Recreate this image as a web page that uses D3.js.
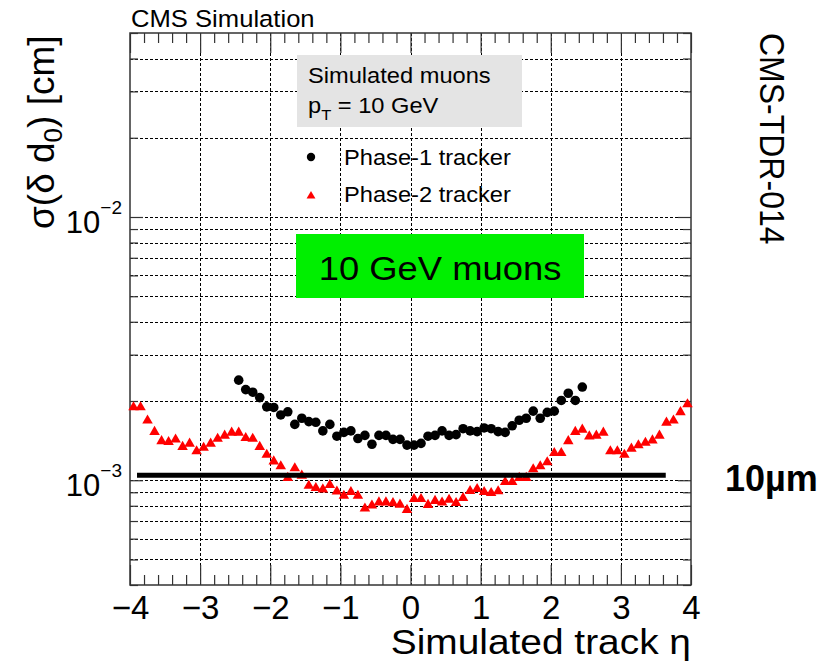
<!DOCTYPE html>
<html>
<head>
<meta charset="utf-8">
<script src="https://cdn.jsdelivr.net/npm/d3@7"></script>
<style>
  body { margin: 0; background: #fff; }
  svg { display: block; font-family: "Liberation Sans", Arial, Helvetica, sans-serif; }
</style>
</head>
<body>
<script>
// resolution values are read in units of 10^-3 cm
var units = 1e-3;

var etaPhase1 = [-2.45,-2.35,-2.25,-2.15,-2.05,-1.95,-1.85,-1.75,-1.65,-1.55,
                 -1.45,-1.35,-1.25,-1.15,-1.05,-0.95,-0.85,-0.75,-0.65,-0.55,
                 -0.45,-0.35,-0.25,-0.15,-0.05,0.05,0.15,0.25,0.35,0.45,
                 0.55,0.65,0.75,0.85,0.95,1.05,1.15,1.25,1.35,1.45,
                 1.55,1.65,1.75,1.85,1.95,2.05,2.15,2.25,2.35,2.45];
var resPhase1 = [2.40,2.21,2.16,2.06,1.90,1.89,1.77,1.82,1.63,1.72,
                 1.67,1.66,1.54,1.63,1.47,1.52,1.54,1.44,1.48,1.37,
                 1.48,1.48,1.43,1.43,1.36,1.36,1.38,1.47,1.48,1.54,
                 1.48,1.49,1.57,1.54,1.53,1.58,1.57,1.53,1.52,1.61,
                 1.69,1.72,1.83,1.72,1.81,1.83,2.01,2.14,2.01,2.26];

var etaPhase2 = [-3.95,-3.85,-3.75,-3.65,-3.55,-3.45,-3.35,-3.25,-3.15,-3.05,
                 -2.95,-2.85,-2.75,-2.65,-2.55,-2.45,-2.35,-2.25,-2.15,-2.05,
                 -1.95,-1.85,-1.75,-1.65,-1.55,-1.45,-1.35,-1.25,-1.15,-1.05,
                 -0.95,-0.85,-0.75,-0.65,-0.55,-0.45,-0.35,-0.25,-0.15,-0.05,
                 0.05,0.15,0.25,0.35,0.45,0.55,0.65,0.75,0.85,0.95,
                 1.05,1.15,1.25,1.35,1.45,1.55,1.65,1.75,1.85,1.95,
                 2.05,2.15,2.25,2.35,2.45,2.55,2.65,2.75,2.85,2.95,
                 3.05,3.15,3.25,3.35,3.45,3.55,3.65,3.75,3.85,3.95];
var resPhase2 = [1.91,1.91,1.70,1.54,1.42,1.41,1.44,1.35,1.39,1.30,
                 1.34,1.39,1.45,1.49,1.53,1.53,1.46,1.45,1.35,1.26,
                 1.19,1.14,1.03,1.12,1.05,0.961,0.942,0.931,0.968,0.914,
                 0.881,0.910,0.881,0.788,0.809,0.831,0.831,0.826,0.815,0.778,
                 0.856,0.856,0.813,0.842,0.830,0.850,0.827,0.864,0.918,0.934,
                 0.910,0.902,0.916,0.993,0.993,1.03,1.03,1.11,1.14,1.18,
                 1.28,1.28,1.42,1.54,1.57,1.48,1.49,1.53,1.30,1.30,
                 1.26,1.33,1.37,1.40,1.43,1.49,1.67,1.70,1.83,1.96];

var xMajorTicks = [-4,-3,-2,-1,0,1,2,3,4];
var xTickLabels = ["\u22124","\u22123","\u22122","\u22121","0","1","2","3","4"];
var xGridTicks = [-3,-2,-1,0,1,2,3];
var yLabelTicks = [1e-3, 1e-2];
var yTickExponents = ["\u22123", "\u22122"];
// the 10 um reference line drawn on the slide
var tenMicron = {value: 1.045e-3, from: -3.9, to: 3.64};

var W = 840, H = 663;
var margin = {top: 33, right: 149, bottom: 78, left: 130};

var svg = d3.select("body").append("svg")
    .attr("width", W)
    .attr("height", H);

var x = d3.scaleLinear().domain([-4, 4]).range([margin.left, W - margin.right]);
var y = d3.scaleLog().domain([4e-4, 5e-2]).range([H - margin.bottom, margin.top]);

var x0 = x.range()[0], x1 = x.range()[1];
var yBot = y.range()[0], yTop = y.range()[1];

var xMinor = d3.range(-4, 4.001, 0.2).filter(function(d) { return Math.abs(d - Math.round(d)) > 1e-6; });
var yAll = y.ticks();
var yMinor = yAll.filter(function(d) { return yLabelTicks.indexOf(d) < 0; });

// grid
var grid = svg.append("g").attr("stroke", "#000").attr("stroke-width", 1).attr("stroke-dasharray", "3,2");
grid.selectAll("line.gx").data(xGridTicks).join("line")
    .attr("class", "gx")
    .attr("x1", function(d) { return Math.round(x(d)) + 0.5; })
    .attr("x2", function(d) { return Math.round(x(d)) + 0.5; })
    .attr("y1", yTop).attr("y2", yBot);
grid.selectAll("line.gy").data(yAll.filter(function(d) { return y(d) < yBot - 1 && y(d) > yTop + 1; })).join("line")
    .attr("class", "gy")
    .attr("y1", function(d) { return Math.round(y(d)) + 0.5; })
    .attr("y2", function(d) { return Math.round(y(d)) + 0.5; })
    .attr("x1", x0).attr("x2", x1);

// axes (ticks inward, mirrored on top and right)
function styleAxis(g) {
  g.select(".domain").remove();
  g.selectAll(".tick line").attr("stroke", "#333").attr("stroke-width", 1.2);
}
svg.append("g").attr("transform", "translate(0," + yBot + ")")
    .call(d3.axisBottom(x).tickValues(xMinor).tickSize(-10).tickFormat(""))
    .call(styleAxis);
svg.append("g").attr("transform", "translate(0," + yTop + ")")
    .call(d3.axisTop(x).tickValues(xMinor).tickSize(-10).tickFormat(""))
    .call(styleAxis);
svg.append("g").attr("transform", "translate(0," + yTop + ")")
    .call(d3.axisTop(x).tickValues(xMajorTicks).tickSize(-20).tickFormat(""))
    .call(styleAxis);
svg.append("g").attr("transform", "translate(0," + yBot + ")")
    .call(d3.axisBottom(x).tickValues(xMajorTicks).tickSize(-20).tickPadding(11)
          .tickFormat(function(d, i) { return xTickLabels[i]; }))
    .call(styleAxis)
    .call(function(g) {
      g.selectAll(".tick text").attr("fill", "#000")
        .style("font-size", "33px")
        .style("font-family", "'Liberation Sans', Arial, sans-serif");
    });

svg.append("g").attr("transform", "translate(" + x0 + ",0)")
    .call(d3.axisLeft(y).tickValues(yMinor).tickSize(-8).tickFormat(""))
    .call(styleAxis);
svg.append("g").attr("transform", "translate(" + x0 + ",0)")
    .call(d3.axisLeft(y).tickValues(yLabelTicks).tickSize(-13).tickFormat(""))
    .call(styleAxis);
svg.append("g").attr("transform", "translate(" + x1 + ",0)")
    .call(d3.axisRight(y).tickValues(yMinor).tickSize(-8).tickFormat(""))
    .call(styleAxis);
svg.append("g").attr("transform", "translate(" + x1 + ",0)")
    .call(d3.axisRight(y).tickValues(yLabelTicks).tickSize(-13).tickFormat(""))
    .call(styleAxis);

// y tick labels 10^n
var yl = svg.selectAll("text.ylab").data(yLabelTicks).join("text")
    .attr("class", "ylab")
    .attr("x", x0 - 8)
    .attr("y", function(d) { return y(d) + 16; })
    .attr("text-anchor", "end")
    .style("font-size", "31px");
yl.append("tspan").text("10");
yl.append("tspan").attr("dy", -19).style("font-size", "19px")
    .text(function(d, i) { return yTickExponents[i]; });

// frame
svg.append("rect")
    .attr("x", x0).attr("y", yTop)
    .attr("width", x1 - x0).attr("height", yBot - yTop)
    .attr("fill", "none").attr("stroke", "#333").attr("stroke-width", 1.5);

// phase-2 triangles
var tri = d3.symbol().type(d3.symbolTriangle).size(48);
svg.append("g").selectAll("path").data(resPhase2).join("path")
    .attr("d", tri)
    .attr("fill", "#ff0000")
    .attr("transform", function(d, i) {
      return "translate(" + x(etaPhase2[i]) + "," + (y(d * units) + 1) + ")";
    });

// phase-1 circles
svg.append("g").selectAll("circle").data(resPhase1).join("circle")
    .attr("cx", function(d, i) { return x(etaPhase1[i]); })
    .attr("cy", function(d) { return y(d * units); })
    .attr("r", 4.8)
    .attr("fill", "#000");

// 10 um line
svg.append("line")
    .attr("x1", x(tenMicron.from)).attr("x2", x(tenMicron.to))
    .attr("y1", y(tenMicron.value)).attr("y2", y(tenMicron.value))
    .attr("stroke", "#000").attr("stroke-width", 5);

svg.append("text")
    .attr("x", 725).attr("y", 491)
    .style("font-size", "36px").style("font-weight", "bold")
    .text("10\u00b5m");

// legend
svg.append("rect").attr("x", 297).attr("y", 55).attr("width", 225).attr("height", 72)
    .attr("fill", "#e4e4e4");
svg.append("text").attr("transform", "translate(308,83) scale(1.1,1)")
    .style("font-size", "21.5px").text("Simulated muons");
var pt = svg.append("text").attr("transform", "translate(308,113) scale(1.1,1)")
    .style("font-size", "21.5px");
pt.append("tspan").text("p");
pt.append("tspan").attr("dy", 7).style("font-size", "15px").text("T");
pt.append("tspan").attr("dy", -7).text(" = 10 GeV");

svg.append("circle").attr("cx", 311).attr("cy", 157).attr("r", 4.2).attr("fill", "#000");
svg.append("text").attr("transform", "translate(344,165) scale(1.1,1)")
    .style("font-size", "21.5px").text("Phase-1 tracker");
svg.append("path").attr("d", d3.symbol().type(d3.symbolTriangle).size(34))
    .attr("transform", "translate(311,196)").attr("fill", "#ff0000");
svg.append("text").attr("transform", "translate(344,202) scale(1.1,1)")
    .style("font-size", "21.5px").text("Phase-2 tracker");

// green label
svg.append("rect").attr("x", 296).attr("y", 234).attr("width", 288).attr("height", 64)
    .attr("fill", "#00ef00");
svg.append("text").attr("transform", "translate(440,280) scale(1.07,1)")
    .attr("text-anchor", "middle")
    .style("font-size", "34px").text("10 GeV muons");

// titles
svg.append("text").attr("transform", "translate(131,27) scale(1.09,1)")
    .style("font-size", "23.5px").text("CMS Simulation");

var yt = svg.append("text").attr("transform", "translate(54,229) rotate(-90)")
    .style("font-size", "37px");
yt.append("tspan").text("\u03c3(\u03b4 d");
yt.append("tspan").attr("dy", 8).style("font-size", "26px").text("0");
yt.append("tspan").attr("dy", -8).text(") [cm]");

svg.append("text").attr("transform", "translate(691,654) scale(1.08,1)")
    .attr("text-anchor", "end")
    .style("font-size", "36px").text("Simulated track \u03b7");

svg.append("text").attr("transform", "translate(760,33) rotate(90) scale(1,1.1)")
    .style("font-size", "32px").text("CMS-TDR-014");

// page number cut off at the bottom edge
svg.append("text").attr("x", 812).attr("y", 681)
    .style("font-size", "26px").attr("fill", "#333").text("10");
</script>
</body>
</html>
